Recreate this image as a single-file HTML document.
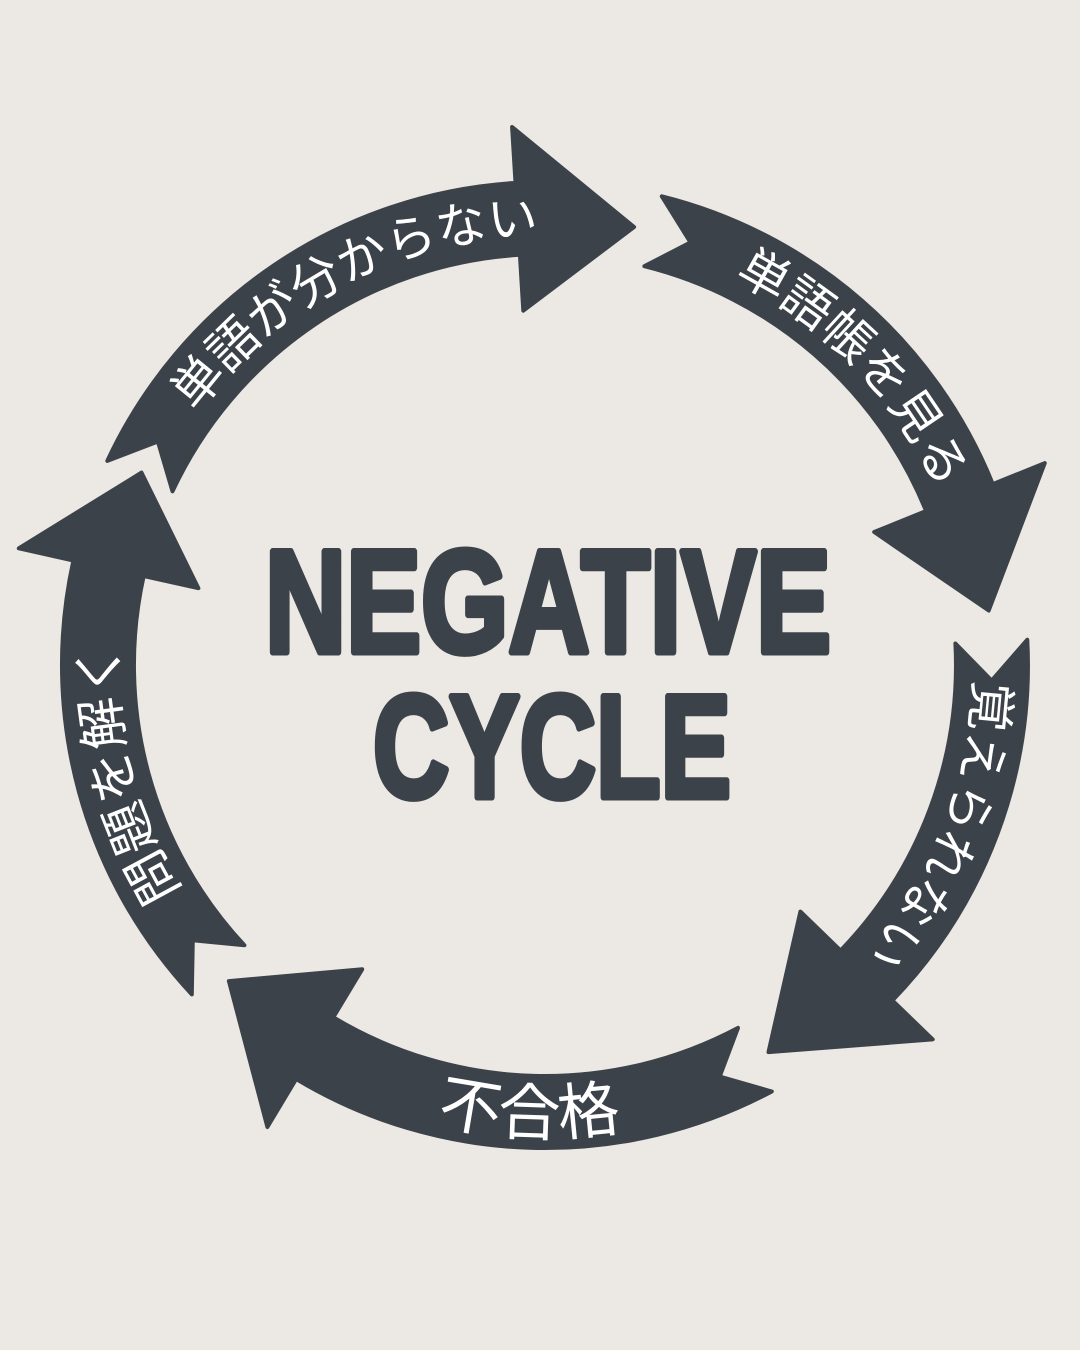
<!DOCTYPE html>
<html><head><meta charset="utf-8"><style>
html,body{margin:0;padding:0;background:#ece8e3;}
svg{display:block}
.t{font-family:"Liberation Sans","Noto Sans CJK JP",sans-serif;font-size:50px;fill:#fff;font-weight:400}
.h{font-family:"Liberation Sans Narrow","Liberation Sans",sans-serif;font-weight:700;fill:#3b4249;stroke:#3b4249;stroke-width:7;stroke-linejoin:round}
</style></head><body>
<svg id="s" width="1080" height="1350" viewBox="0 0 1080 1350" xmlns="http://www.w3.org/2000/svg">
<rect width="1080" height="1350" fill="#ece8e3"/>
<defs>
<path id="p1" d="M0 0"/><path id="p2" d="M0 0"/><path id="p3" d="M0 0"/><path id="p4" d="M0 0"/><path id="p5" d="M0 0"/>
</defs>
<g id="arrows" fill="#3b4249" stroke="#3b4249" stroke-width="4" stroke-linejoin="round"></g>
<text class="t"><textPath href="#p1" startOffset="50%" text-anchor="middle">単語が分からない</textPath></text>
<text class="t"><textPath href="#p2" startOffset="50%" text-anchor="middle">単語帳を見る</textPath></text>
<text class="t"><textPath href="#p3" startOffset="50%" text-anchor="middle">覚えられない</textPath></text>
<text class="t" style="font-size:62px"><textPath href="#p4" startOffset="50%" text-anchor="middle">不合格</textPath></text>
<text class="t" style="font-size:52px"><textPath href="#p5" startOffset="50%" text-anchor="middle">問題を解く</textPath></text>
<text class="h" x="548" y="652" font-size="146" text-anchor="middle" textLength="566" lengthAdjust="spacingAndGlyphs">NEGATIVE</text>
<text class="h" x="552" y="797" font-size="146" text-anchor="middle" textLength="358" lengthAdjust="spacingAndGlyphs">CYCLE</text>
</svg>
<script>
var cx=545,cy=665,rm=447,hw=36;
function P(a,r){var t=a*Math.PI/180;return (cx+r*Math.cos(t)).toFixed(1)+' '+(cy+r*Math.sin(t)).toFixed(1);}
function arc(a0,a1,r,sweep){return 'A'+r+' '+r+' 0 0 '+sweep+' '+P(a1,r);}
function arrow(a0,ab,at){
 var ro=rm+hw,ri=rm-hw;
 var d='M'+P(a0,ro)+' '+arc(a0,ab,ro,1)+' L'+P(ab,rm+92)+' L'+P(at,rm)+' L'+P(ab,rm-92)+' L'+P(ab,ri)+' '+arc(ab,a0,ri,0)+' L'+P(a0+5,rm)+' Z';
 var p=document.createElementNS('http://www.w3.org/2000/svg','path');p.setAttribute('d',d);
 document.getElementById('arrows').appendChild(p);
}
arrow(205,266.5,281.5);
arrow(284,338,353);
arrow(357,404,420);
arrow(62,121,135);
arrow(137,192.5,205.5);
function tp(id,a0,a1,r,sw){document.getElementById(id).setAttribute('d','M'+P(a0,r)+' '+arc(a0,a1,r,sw));}
tp('p1',205,280,430,1);
tp('p2',285,347,430,1);
tp('p3',352,412,430,1);
tp('p4',120,64,470,0);
tp('p5',135,196,428,1);
</script>
</body></html>
